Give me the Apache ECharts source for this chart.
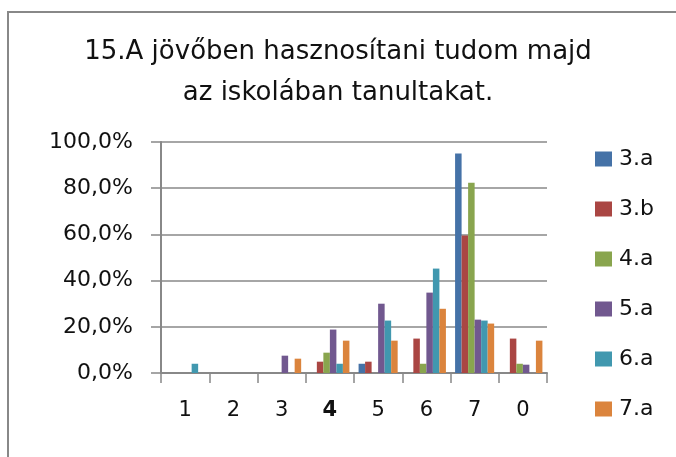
<!DOCTYPE html>
<html>
<head>
<meta charset="utf-8">
<script src="https://cdn.jsdelivr.net/npm/echarts@6/dist/echarts.min.js"></script>
<style>
  html, body { margin: 0; padding: 0; background: #fff; }
  #chart { width: 676px; height: 457px; }
</style>
</head>
<body>
<div id="chart"></div>
<script>
// answer categories (0 = no answer)
const categories = ["1", "2", "3", "4", "5", "6", "7", "0"];
const classNames = ["3.a", "3.b", "4.a", "5.a", "6.a", "7.a"];
const colors = ["#4572A7", "#AA4643", "#89A54E", "#71588F", "#4198AF", "#DB843D"];

// percentages
const class3a = [0, 0, 0, 0, 4.0, 0, 95.0, 0];
const class3b = [0, 0, 0, 4.9, 4.9, 14.9, 59.5, 14.9];
const class4a = [0, 0, 0, 8.8, 0, 4.0, 82.4, 4.0];
const class5a = [0, 0, 7.5, 18.8, 30.0, 34.8, 23.1, 3.6];
const class6a = [4.0, 0, 0, 4.0, 22.7, 45.2, 22.7, 0];
const class7a = [0, 0, 6.2, 14.0, 14.0, 27.8, 21.4, 14.0];
const values = [class3a, class3b, class4a, class5a, class6a, class7a];

const yTicks = [0, 20, 40, 60, 80, 100];

const font = "'DejaVu Sans', sans-serif";
const chart = echarts.init(document.getElementById("chart"));

chart.setOption({
  animation: false,
  textStyle: { fontFamily: font },
  title: {
    text: "15.A jövőben hasznosítani tudom majd\naz iskolában tanultakat.",
    left: "center",
    top: 27,
    textStyle: { fontSize: 26, fontWeight: "normal", color: "#111", lineHeight: 41, fontFamily: font }
  },
  graphic: [{
    type: "rect",
    shape: { x: 8, y: 12, width: 720, height: 500 },
    style: { fill: "none", stroke: "#888", lineWidth: 2 }
  }],
  legend: {
    orient: "vertical",
    left: 590,
    top: 143,
    itemWidth: 17,
    itemHeight: 15,
    itemGap: 28,
    icon: "rect",
    data: classNames,
    textStyle: { fontSize: 22, color: "#111", fontFamily: font, padding: [0, 0, 0, 2] }
  },
  grid: { left: 161, top: 142, width: 386, height: 231 },
  xAxis: {
    type: "category",
    data: categories,
    axisLine: { lineStyle: { color: "#888", width: 2 } },
    axisTick: { show: true, length: 10, lineStyle: { color: "#888", width: 1.5 } },
    axisLabel: {
      interval: 0,
      fontSize: 21,
      color: "#111",
      margin: 27,
      formatter: v => v === "4" ? "{b|4}" : v,
      rich: { b: { fontSize: 21, fontWeight: "bold", color: "#111", fontFamily: font } }
    }
  },
  yAxis: {
    type: "value",
    min: yTicks[0],
    max: yTicks[yTicks.length - 1],
    interval: 20,
    axisLine: { show: true, lineStyle: { color: "#888", width: 2 } },
    axisTick: { show: true, length: 10, lineStyle: { color: "#888", width: 1.5 } },
    splitLine: { lineStyle: { color: "#888", width: 1.5 } },
    axisLabel: {
      fontSize: 22,
      color: "#111",
      margin: 28,
      formatter: v => v.toFixed(1).replace(".", ",") + "%"
    }
  },
  series: classNames.map((name, i) => ({
    name: name,
    type: "bar",
    data: values[i],
    itemStyle: { color: colors[i] },
    barGap: "0%",
    barCategoryGap: "19%"
  }))
});
</script>
</body>
</html>
